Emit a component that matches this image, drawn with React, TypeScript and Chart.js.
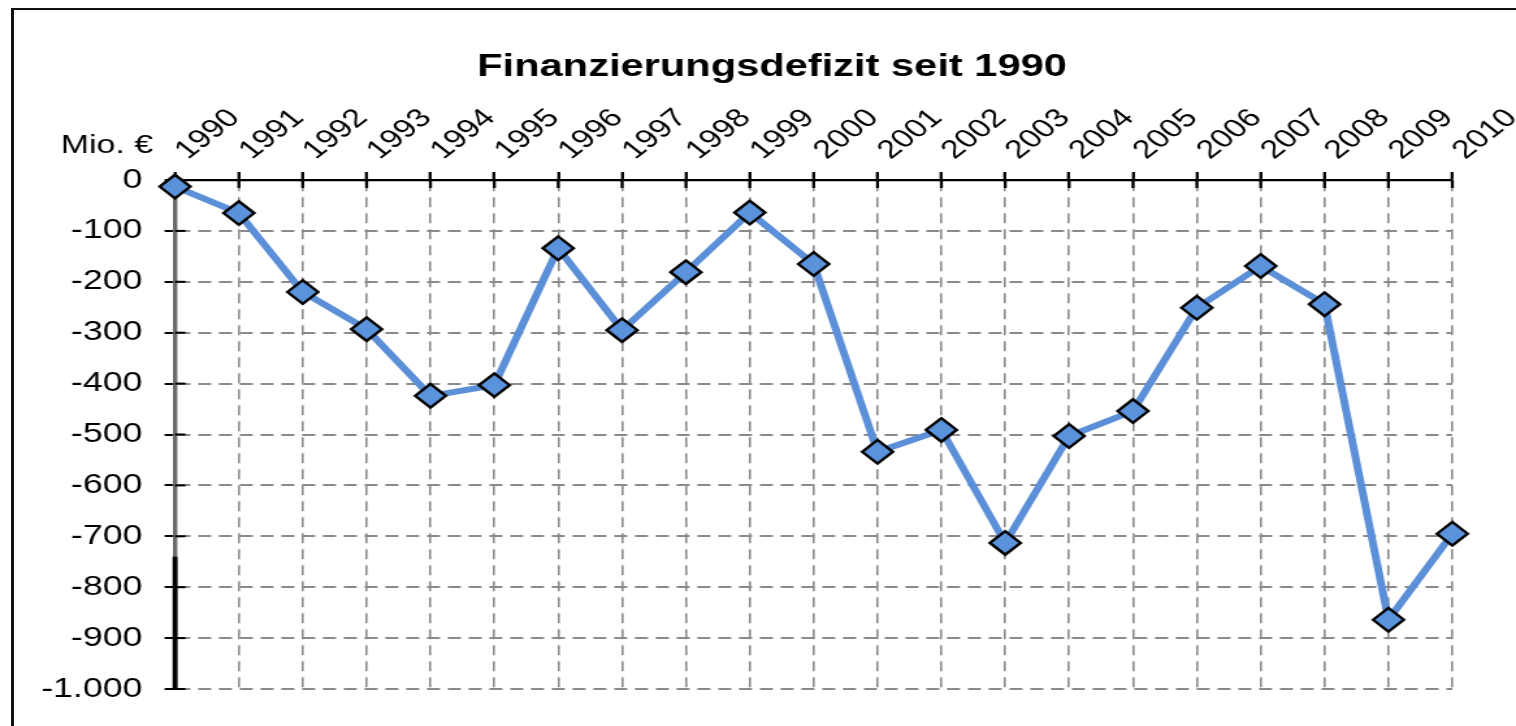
import React, { useEffect, useRef } from "react";
import { Chart, registerables } from "chart.js";

Chart.register(...registerables);

// ---- data ----
const years = [
  "1990", "1991", "1992", "1993", "1994", "1995", "1996", "1997", "1998", "1999", "2000",
  "2001", "2002", "2003", "2004", "2005", "2006", "2007", "2008", "2009", "2010",
];
const deficit = [
  -13, -65, -220, -293, -424, -403, -134, -295, -181, -64, -165,
  -534, -491, -713, -503, -454, -251, -169, -244, -864, -695,
];
const yMin = -1000;
const yMax = 0;
const yStep = 100;
const axisDarkFrom = -740;
const chartTitle = "Finanzierungsdefizit seit 1990";
const unitLabel = "Mio. €";

// ---- rendering geometry ----
const SX = 1.3; // horizontal stretch of the original picture
const W = Math.round(1516 / SX);
const H = 726;
const FONT = "'Liberation Sans', Arial, Helvetica, sans-serif";

function fmt(v: number): string {
  const n = Math.abs(v);
  const s = n >= 1000 ? Math.floor(n / 1000) + "." + String(n % 1000).padStart(3, "0") : String(n);
  return (v < 0 ? "-" : "") + s;
}

const axisDecor = {
  id: "axisDecor",
  beforeDatasetsDraw(chart: any) {
    const { ctx, chartArea } = chart;
    const x = chart.scales.x;
    const y = chart.scales.y;
    ctx.save();
    ctx.setLineDash([]);
    ctx.strokeStyle = "#000";
    ctx.lineWidth = 2.3;
    x.ticks.forEach((_t: any, i: number) => {
      const px = x.getPixelForTick(i);
      ctx.beginPath();
      ctx.moveTo(px, chartArea.top);
      ctx.lineTo(px, chartArea.top + 8);
      ctx.stroke();
    });
    ctx.lineWidth = 2;
    y.ticks.forEach((_t: any, i: number) => {
      const py = y.getPixelForTick(i);
      ctx.beginPath();
      ctx.moveTo(chartArea.left, py);
      ctx.lineTo(chartArea.left + 8, py);
      ctx.stroke();
    });
    ctx.lineWidth = 3.8;
    ctx.beginPath();
    ctx.moveTo(chartArea.left, y.getPixelForValue(axisDarkFrom));
    ctx.lineTo(chartArea.left, y.getPixelForValue(yMin) + 1);
    ctx.stroke();
    ctx.restore();
  },
  afterDraw(chart: any) {
    const { ctx, chartArea } = chart;
    ctx.save();
    ctx.fillStyle = "#000";
    ctx.font = `26px ${FONT}`;
    ctx.textAlign = "right";
    ctx.textBaseline = "middle";
    ctx.fillText(unitLabel, chartArea.left - 17, chartArea.top - 34);
    ctx.font = `bold 32px ${FONT}`;
    ctx.textAlign = "center";
    ctx.textBaseline = "middle";
    ctx.fillText(chartTitle, (chartArea.left + chartArea.right) / 2 - 32, 67);
    ctx.restore();
  },
};

export default function App() {
  const ref = useRef<HTMLCanvasElement | null>(null);

  useEffect(() => {
    if (!ref.current) return;
    const chart = new Chart(ref.current, {
      type: "line",
      data: {
        labels: years,
        datasets: [
          {
            data: deficit,
            borderColor: "#5B8FD8",
            borderWidth: 6,
            pointStyle: "rectRot",
            pointRadius: 11.8,
            pointBackgroundColor: "#5A93DB",
            pointBorderColor: "#000",
            pointBorderWidth: 2.4,
            tension: 0,
            clip: false as any,
          },
        ],
      },
      options: {
        animation: false,
        responsive: false,
        maintainAspectRatio: false,
        layout: { padding: { left: 10, right: 49, top: 0, bottom: 37 } },
        plugins: {
          legend: { display: false },
          tooltip: { enabled: false },
          title: { display: false },
        },
        scales: {
          x: {
            position: "top",
            offset: false,
            afterFit: (s: any) => {
              s.height = 180;
            },
            grid: {
              color: "#8a8a8a",
              lineWidth: 1.6,
              tickColor: "#000",
              tickWidth: 2.3,
              tickLength: 8,
              tickBorderDash: [],
            } as any,
            border: { display: true, color: "#000", width: 2.2, dash: [10, 6] },
            ticks: {
              color: "#000",
              font: { family: FONT, size: 26 },
              minRotation: 45,
              maxRotation: 45,
              autoSkip: false,
              padding: 6,
              labelOffset: 27,
            },
          },
          y: {
            min: yMin,
            max: yMax,
            afterFit: (s: any) => {
              s.width = 124.6;
            },
            grid: {
              color: "#8a8a8a",
              lineWidth: 2,
              tickColor: "#000",
              tickWidth: 2,
              tickLength: 8,
              tickBorderDash: [],
            } as any,
            border: { display: true, color: "#6a6a6a", width: 3.4, dash: [10, 6] },
            ticks: {
              stepSize: yStep,
              color: "#000",
              font: { family: FONT, size: 27.5 },
              padding: 17,
              callback: (v: any) => fmt(Number(v)),
            },
          },
        },
      },
      plugins: [axisDecor],
    });
    return () => chart.destroy();
  }, []);

  return (
    <div
      style={{
        position: "fixed",
        left: 0,
        top: 0,
        width: 1516,
        height: 726,
        overflow: "hidden",
        background: "#fff",
      }}
    >
      <div
        style={{
          position: "absolute",
          left: 11,
          top: 8,
          width: 1700,
          height: 900,
          borderTop: "2px solid #111",
          borderLeft: "3px solid #111",
        }}
      />
      <div
        style={{
          position: "absolute",
          left: 0,
          top: 0,
          width: W,
          height: H,
          transform: `scaleX(${1516 / W})`,
          transformOrigin: "0 0",
        }}
      >
        <canvas
          ref={ref}
          width={W}
          height={H}
          style={{ display: "block", width: W, height: H }}
        />
      </div>
    </div>
  );
}
